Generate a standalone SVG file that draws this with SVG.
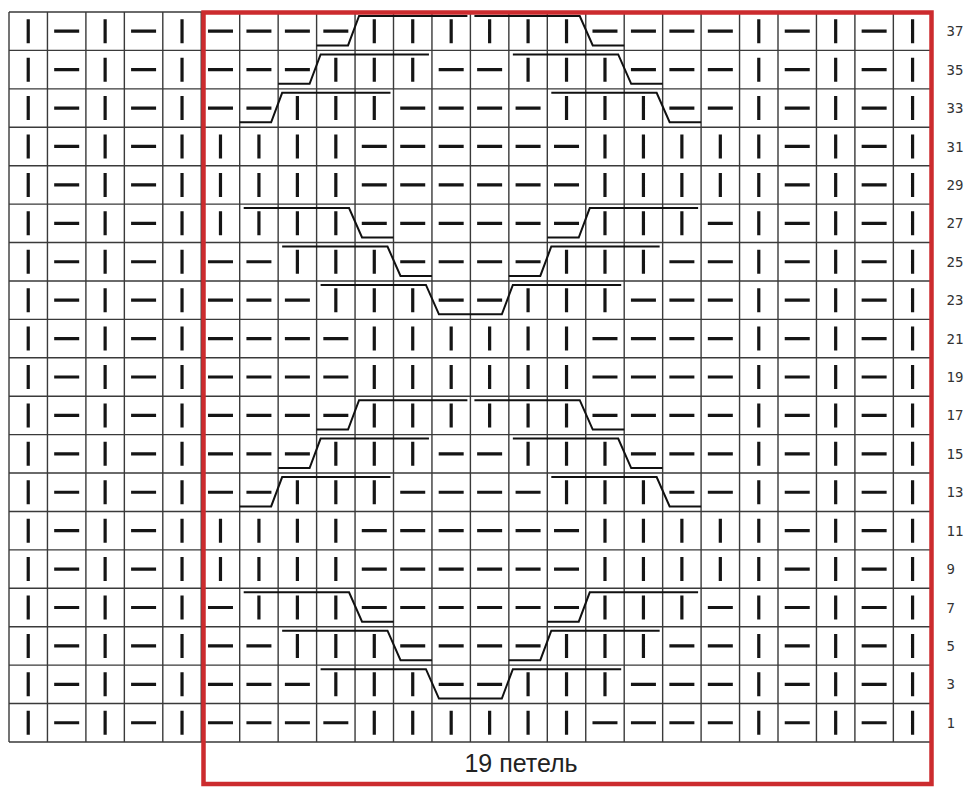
<svg xmlns="http://www.w3.org/2000/svg" xmlns:xlink="http://www.w3.org/1999/xlink" width="966" height="787" viewBox="0 0 966 787">
<style>
.grid{fill:none;stroke:#3a3a3a;stroke-width:1.4}
.g{fill:none;stroke:#151515;stroke-width:3.2;stroke-linecap:butt}
.cab{fill:none;stroke:#111;stroke-width:2;stroke-linejoin:miter}
.frame{fill:none;stroke:#cc2b2e;stroke-width:4.5}
.num{font-family:"DejaVu Sans Mono","Liberation Mono",monospace;font-size:14px;fill:#333}
.cap{font-family:"Liberation Sans",Arial,sans-serif;font-size:25px;fill:#222}
</style>
<defs>
<path id="edge" class="g" d="M28.23,-12v24 M54.18,0h25 M105.13,-12v24 M131.08,0h25 M182.03,-12v24 M758.78,-12v24 M784.73,0h25 M835.68,-12v24 M861.63,0h25 M912.58,-12v24"/>
<path id="rA" class="g" d="M207.98,0h25 M246.43,0h25 M284.88,0h25 M323.33,0h25 M374.28,-12v24 M412.73,-12v24 M451.18,-12v24 M489.63,-12v24 M528.08,-12v24 M566.53,-12v24 M592.48,0h25 M630.93,0h25 M669.38,0h25 M707.83,0h25"/>
<path id="rB" class="g" d="M207.98,0h25 M246.43,0h25 M284.88,0h25 M335.83,-12v24 M374.28,-12v24 M412.73,-12v24 M438.68,0h25 M477.13,0h25 M528.08,-12v24 M566.53,-12v24 M604.98,-12v24 M630.93,0h25 M669.38,0h25 M707.83,0h25"/>
<path id="rC" class="g" d="M207.98,0h25 M246.43,0h25 M297.38,-12v24 M335.83,-12v24 M374.28,-12v24 M400.23,0h25 M438.68,0h25 M477.13,0h25 M515.58,0h25 M566.53,-12v24 M604.98,-12v24 M643.43,-12v24 M669.38,0h25 M707.83,0h25"/>
<path id="rD" class="g" d="M220.48,-12v24 M258.93,-12v24 M297.38,-12v24 M335.83,-12v24 M361.78,0h25 M400.23,0h25 M438.68,0h25 M477.13,0h25 M515.58,0h25 M554.03,0h25 M604.98,-12v24 M643.43,-12v24 M681.88,-12v24 M720.33,-12v24"/>
<path id="rE" class="g" d="M220.48,-12v24 M258.93,-12v24 M297.38,-12v24 M335.83,-12v24 M361.78,0h25 M400.23,0h25 M438.68,0h25 M477.13,0h25 M515.58,0h25 M554.03,0h25 M604.98,-12v24 M643.43,-12v24 M681.88,-12v24 M707.83,0h25"/>
<path id="rF" class="g" d="M207.98,0h25 M258.93,-12v24 M297.38,-12v24 M335.83,-12v24 M361.78,0h25 M400.23,0h25 M438.68,0h25 M477.13,0h25 M515.58,0h25 M554.03,0h25 M604.98,-12v24 M643.43,-12v24 M681.88,-12v24 M707.83,0h25"/>
<path id="cabTop" class="cab" d="M316.6,33.42 H348.05 L359.05,4 H467.4 M474.4,4 H579.75 L592.75,33.42 H624.2 M278.15,71.84 H309.6 L320.6,42.42 H428.95 M512.85,42.42 H618.2 L631.2,71.84 H662.65 M239.7,110.26 H271.15 L282.15,80.84 H390.5 M551.3,80.84 H656.65 L669.65,110.26 H701.1"/>
<path id="cabBot" class="cab" d="M243.7,4 H349.05 L362.05,33.42 H393.5 M547.3,33.42 H578.75 L589.75,4 H698.1 M282.15,42.42 H387.5 L400.5,71.84 H431.95 M508.85,71.84 H540.3 L551.3,42.42 H659.65 M320.6,80.84 H425.95 L438.95,110.26 H470.4 M470.4,110.26 H501.85 L512.85,80.84 H621.2"/>
</defs>
<rect width="966" height="787" fill="#fff"/>
<g id="grid">
<path class="grid" d="M9,12V741.98 M47.45,12V741.98 M85.9,12V741.98 M124.35,12V741.98 M162.8,12V741.98 M201.25,12V741.98 M239.7,12V741.98 M278.15,12V741.98 M316.6,12V741.98 M355.05,12V741.98 M393.5,12V741.98 M431.95,12V741.98 M470.4,12V741.98 M508.85,12V741.98 M547.3,12V741.98 M585.75,12V741.98 M624.2,12V741.98 M662.65,12V741.98 M701.1,12V741.98 M739.55,12V741.98 M778,12V741.98 M816.45,12V741.98 M854.9,12V741.98 M893.35,12V741.98 M931.8,12V741.98"/>
<path class="grid" d="M9,12H931.8 M9,50.42H931.8 M9,88.84H931.8 M9,127.26H931.8 M9,165.68H931.8 M9,204.1H931.8 M9,242.52H931.8 M9,280.94H931.8 M9,319.36H931.8 M9,357.78H931.8 M9,396.2H931.8 M9,434.62H931.8 M9,473.04H931.8 M9,511.46H931.8 M9,549.88H931.8 M9,588.3H931.8 M9,626.72H931.8 M9,665.14H931.8 M9,703.56H931.8 M9,741.98H931.8"/>
</g>
<g id="stitches">
<g id="row37"><use href="#edge" y="31.21"/><use href="#rA" y="31.21"/></g>
<g id="row35"><use href="#edge" y="69.63"/><use href="#rB" y="69.63"/></g>
<g id="row33"><use href="#edge" y="108.05"/><use href="#rC" y="108.05"/></g>
<g id="row31"><use href="#edge" y="146.47"/><use href="#rD" y="146.47"/></g>
<g id="row29"><use href="#edge" y="184.89"/><use href="#rD" y="184.89"/></g>
<g id="row27"><use href="#edge" y="223.31"/><use href="#rE" y="223.31"/></g>
<g id="row25"><use href="#edge" y="261.73"/><use href="#rC" y="261.73"/></g>
<g id="row23"><use href="#edge" y="300.15"/><use href="#rB" y="300.15"/></g>
<g id="row21"><use href="#edge" y="338.57"/><use href="#rA" y="338.57"/></g>
<g id="row19"><use href="#edge" y="376.99"/><use href="#rA" y="376.99"/></g>
<g id="row17"><use href="#edge" y="415.41"/><use href="#rA" y="415.41"/></g>
<g id="row15"><use href="#edge" y="453.83"/><use href="#rB" y="453.83"/></g>
<g id="row13"><use href="#edge" y="492.25"/><use href="#rC" y="492.25"/></g>
<g id="row11"><use href="#edge" y="530.67"/><use href="#rD" y="530.67"/></g>
<g id="row9"><use href="#edge" y="569.09"/><use href="#rD" y="569.09"/></g>
<g id="row7"><use href="#edge" y="607.51"/><use href="#rF" y="607.51"/></g>
<g id="row5"><use href="#edge" y="645.93"/><use href="#rC" y="645.93"/></g>
<g id="row3"><use href="#edge" y="684.35"/><use href="#rB" y="684.35"/></g>
<g id="row1"><use href="#edge" y="722.77"/><use href="#rA" y="722.77"/></g>
</g>
<g id="cables">
<use href="#cabTop" y="12"/>
<use href="#cabBot" y="204.1"/>
<use href="#cabTop" y="396.2"/>
<use href="#cabBot" y="588.3"/>
</g>
<g id="repeat-frame">
<rect class="frame" x="203.5" y="12.5" width="728" height="771.5"/>
<text class="cap" x="521" y="772" text-anchor="middle">19 петель</text>
</g>
<g id="row-numbers">
<text class="num" x="946.5" y="36.2">37</text>
<text class="num" x="946.5" y="74.6">35</text>
<text class="num" x="946.5" y="113">33</text>
<text class="num" x="946.5" y="151.5">31</text>
<text class="num" x="946.5" y="189.9">29</text>
<text class="num" x="946.5" y="228.3">27</text>
<text class="num" x="946.5" y="266.7">25</text>
<text class="num" x="946.5" y="305.1">23</text>
<text class="num" x="946.5" y="343.6">21</text>
<text class="num" x="946.5" y="382">19</text>
<text class="num" x="946.5" y="420.4">17</text>
<text class="num" x="946.5" y="458.8">15</text>
<text class="num" x="946.5" y="497.2">13</text>
<text class="num" x="946.5" y="535.7">11</text>
<text class="num" x="946.5" y="574.1">9</text>
<text class="num" x="946.5" y="612.5">7</text>
<text class="num" x="946.5" y="650.9">5</text>
<text class="num" x="946.5" y="689.3">3</text>
<text class="num" x="946.5" y="727.8">1</text>
</g>
</svg>
